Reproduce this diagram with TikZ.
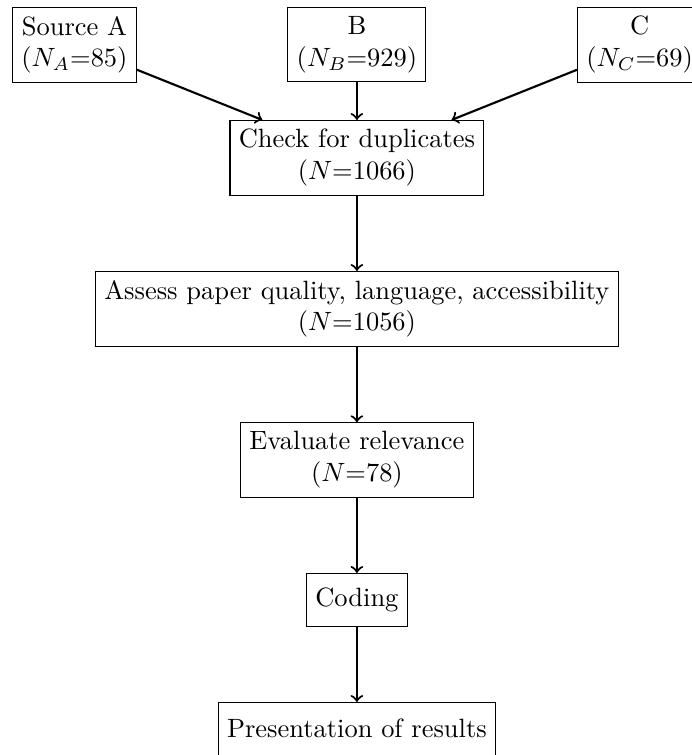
\documentclass[tikz,border=0pt]{standalone}
\usepackage{amsmath}
\usepackage{tikz}
\usetikzlibrary{positioning,calc}
\tikzset{
  stagebox/.style={
    draw,
    align=center,
    minimum height=7mm
  },
  stagearrow/.style={->, thick}
}
\begin{document}
\begin{tikzpicture}[node distance=10mm]
    \node[stagebox] (srcB) {B\\($N_B$=929)};
    \node[stagebox, left=20mm of srcB] (srcA) {Source A\\($N_A$=85)};
    \node[stagebox, right=20mm of srcB] (srcC) {C\\($N_C$=69)};

    \node[stagebox, below=5mm of srcB] (dup) {Check for duplicates\\($N$=1066)};
    \node[stagebox, below=of dup] (quality) {Assess paper quality, language, accessibility\\($N$=1056)};
    \node[stagebox, below=of quality] (relevance) {Evaluate relevance\\($N$=78)};
    \node[stagebox, below=of relevance] (coding) {Coding};
    \node[stagebox, below=of coding] (results) {Presentation of results};

    \draw[stagearrow] (srcA) -- (dup);
    \draw[stagearrow] (srcB) -- (dup);
    \draw[stagearrow] (srcC) -- (dup);

    \draw[stagearrow] (dup) -- (quality);
    \draw[stagearrow] (quality) -- (relevance);
    \draw[stagearrow] (relevance) -- (coding);
    \draw[stagearrow] (coding) -- (results);

    % the page is cut off at the right and at the bottom
    \pgfresetboundingbox
    \useasboundingbox ($(srcA.north west)+(-0.16,0.09)$) rectangle ++(9.19,-10.03);
\end{tikzpicture}
\end{document}
